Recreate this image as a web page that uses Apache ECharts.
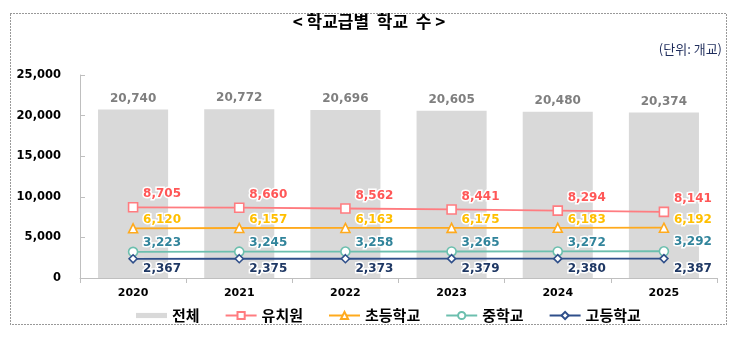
<!DOCTYPE html>
<html>
<head>
<meta charset="utf-8">
<script src="https://cdn.jsdelivr.net/npm/echarts@6/dist/echarts.min.js"></script>
<style>
  html, body { margin: 0; padding: 0; background: #fff; }
  #chart { width: 738px; height: 344px; }
</style>
</head>
<body>
<div id="chart"></div>
<script>
// Number of schools by school level, 2020–2025 (unit: schools)
const years = ['2020', '2021', '2022', '2023', '2024', '2025'];
const total = [20740, 20772, 20696, 20605, 20480, 20374];
const kindergarten = [8705, 8660, 8562, 8441, 8294, 8141];
const elementary = [6120, 6157, 6163, 6175, 6183, 6192];
const middle = [3223, 3245, 3258, 3265, 3272, 3292];
const high = [2367, 2375, 2373, 2379, 2380, 2387];
const yTicks = [0, 5000, 10000, 15000, 20000, 25000];

const NUM_FONT = '"DejaVu Sans", Verdana, sans-serif';
const KR_FONT = '"Noto Sans CJK KR", "Noto Sans", sans-serif';
const fmt = v => v.toLocaleString('en-US');

function lineSeries(name, values, lineColor, labelColor, symbol, symbolSize, dy) {
  return {
    name: name,
    type: 'line',
    data: values,
    symbol: symbol,
    symbolSize: symbolSize,
    showAllSymbol: true,
    lineStyle: { color: lineColor, width: 1.8 },
    itemStyle: { color: '#fff', borderColor: lineColor, borderWidth: 1.6 },
    label: {
      show: true,
      position: 'inside',
      offset: [29, dy],
      formatter: p => fmt(p.value),
      color: labelColor,
      fontFamily: NUM_FONT,
      fontWeight: 'bold',
      fontSize: 12,
      textBorderColor: '#fff',
      textBorderWidth: 3
    },
    z: 3
  };
}

const chart = echarts.init(document.getElementById('chart'), null, { renderer: 'canvas' });
chart.setOption({
  animation: false,
  backgroundColor: '#fff',
  graphic: [
    {
      type: 'rect',
      shape: { x: 10.5, y: 13.5, width: 716, height: 311 },
      style: { fill: 'none', stroke: '#333', lineWidth: 1, lineDash: [1, 2] },
      silent: true
    },
    {
      type: 'text',
      left: 'center',
      top: 13,
      style: {
        text: '< 학교급별  학교  수 >',
        font: 'bold 17px ' + KR_FONT,
        fill: '#000'
      }
    },
    {
      type: 'text',
      right: 16,
      top: 43,
      style: {
        text: '(단위: 개교)',
        font: '13px ' + KR_FONT,
        fill: '#1f2d5c'
      }
    }
  ],
  grid: { left: 80, right: 21, top: 75, bottom: 66 },
  legend: {
    top: 303,
    left: 131,
    itemWidth: 31,
    itemHeight: 9,
    itemGap: 25,
    textStyle: { fontFamily: KR_FONT, fontWeight: 'bold', fontSize: 15, color: '#000' },
    data: [
      { name: '전체', icon: 'path://M0,0h30v5h-30z' },
      '유치원', '초등학교', '중학교', '고등학교'
    ]
  },
  xAxis: {
    type: 'category',
    data: years,
    axisLine: { lineStyle: { color: '#bfbfbf', width: 1 } },
    axisTick: { show: true, length: 5, lineStyle: { color: '#bfbfbf' } },
    axisLabel: {
      margin: 10,
      color: '#000',
      fontFamily: NUM_FONT,
      fontWeight: 'bold',
      fontSize: 11
    }
  },
  yAxis: {
    type: 'value',
    min: yTicks[0],
    max: yTicks[yTicks.length - 1],
    interval: yTicks[1] - yTicks[0],
    splitLine: { show: false },
    axisLine: { show: true, lineStyle: { color: '#bfbfbf', width: 1 } },
    axisTick: { show: true, inside: true, length: 5, lineStyle: { color: '#bfbfbf' } },
    axisLabel: {
      margin: 19,
      color: '#000',
      fontFamily: NUM_FONT,
      fontWeight: 'bold',
      fontSize: 11.5,
      formatter: v => fmt(v)
    }
  },
  series: [
    {
      name: '전체',
      type: 'bar',
      data: total,
      barWidth: '66%',
      itemStyle: { color: '#d9d9d9' },
      label: {
        show: true,
        position: 'top',
        distance: 5,
        formatter: p => fmt(p.value),
        color: '#7f7f7f',
        fontFamily: NUM_FONT,
        fontWeight: 'bold',
        fontSize: 12
      },
      z: 1
    },
    lineSeries('유치원', kindergarten, '#ff7c80', '#ff5757', 'rect', 9, -13),
    lineSeries('초등학교', elementary, '#ffaa1d', '#ffbf00', 'triangle', 9, -8),
    lineSeries('중학교', middle, '#6cbfae', '#31849b', 'circle', 9, -9),
    lineSeries('고등학교', high, '#2f4f8a', '#1f3864', 'diamond', 8, 10)
  ]
});
</script>
</body>
</html>
